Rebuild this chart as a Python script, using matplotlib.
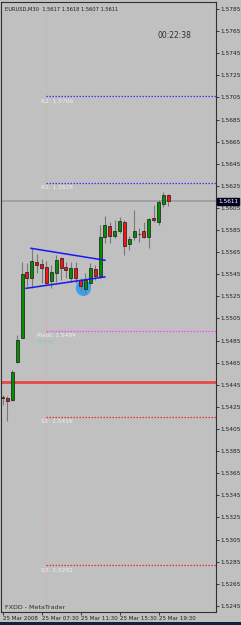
import matplotlib
matplotlib.use("Agg")
import matplotlib.pyplot as plt
from matplotlib.patches import Ellipse, Rectangle
import numpy as np

# ---- data ----
opens  = [1.5433, 1.5433, 1.5431, 1.5466, 1.5487, 1.5547, 1.5542, 1.5556, 1.5554, 1.5552,
          1.5539, 1.5546, 1.5560, 1.5552, 1.5542, 1.5551, 1.5540, 1.5532, 1.5537, 1.5550,
          1.5543, 1.5579, 1.5589, 1.5580, 1.5584, 1.5592, 1.5572, 1.5579, 1.5581, 1.5584,
          1.5579, 1.5596, 1.5592, 1.5609, 1.5617]
highs  = [1.5436, 1.5435, 1.5458, 1.5490, 1.5556, 1.5555, 1.5569, 1.5563, 1.5559, 1.5557,
          1.5553, 1.5562, 1.5561, 1.5556, 1.5556, 1.5556, 1.5542, 1.5546, 1.5555, 1.5553,
          1.5590, 1.5598, 1.5592, 1.5594, 1.5597, 1.5594, 1.5580, 1.5603, 1.5587, 1.5592,
          1.5596, 1.5608, 1.5612, 1.5619, 1.5618]
lows   = [1.5427, 1.5412, 1.5430, 1.5465, 1.5487, 1.5534, 1.5533, 1.5546, 1.5537, 1.5535,
          1.5533, 1.5538, 1.5540, 1.5542, 1.5538, 1.5537, 1.5529, 1.5527, 1.5535, 1.5540,
          1.5542, 1.5573, 1.5573, 1.5578, 1.5582, 1.5562, 1.5567, 1.5576, 1.5574, 1.5578,
          1.5569, 1.5592, 1.5590, 1.5606, 1.5607]
closes = [1.5434, 1.5430, 1.5457, 1.5486, 1.5545, 1.5542, 1.5557, 1.5553, 1.5551, 1.5537,
          1.5547, 1.5558, 1.5551, 1.5549, 1.5551, 1.5542, 1.5534, 1.5540, 1.5551, 1.5543,
          1.5579, 1.5590, 1.5580, 1.5584, 1.5593, 1.5571, 1.5577, 1.5584, 1.5581, 1.5579,
          1.5595, 1.5594, 1.5610, 1.5617, 1.5611]

time_tick_bars = [0, 8, 16, 24, 32]
time_tick_labels = ["25 Mar 2008", "25 Mar 07:30", "25 Mar 11:30", "25 Mar 15:30", "25 Mar 19:30"]
price_ticks = [round(1.5245 + 0.002 * k, 4) for k in range(28)]

pivot_names  = ["R2", "R1", "Pivot", "S1", "S2"]
pivot_values = [1.5706, 1.5628, 1.5494, 1.5416, 1.5282]
pivot_colors = ["#3838ff", "#3838ff", "#ff40ff", "#e83030", "#e83030"]
separator_bar = 9
red_level = 1.5448
last_price = 1.5611

tri_upper_x = [5.85, 21.0]
tri_upper_y = [1.55685, 1.55577]
tri_lower_x = [4.82, 21.0]
tri_lower_y = [1.55323, 1.55426]
circle_center = (16.6, 1.55326)

header = "EURUSD,M30  1.5617 1.5618 1.5607 1.5611"
timer = "00:22:38"
footer = "FXDD - MetaTrader"

# ---- figure ----
BG = "#c0c0c0"
fig = plt.figure(figsize=(2.41, 6.25), dpi=100, facecolor=BG)
ax = fig.add_axes([1/241, 1 - 612/625, 215/241, 610/625])
ax.set_facecolor(BG)

ax.set_xlim(-0.31, 43.79)
ax.set_ylim(1.52395, 1.57913)

# separator
ax.axvline(separator_bar, color="#d8a8a8", lw=0.6, ls=(0, (1.5, 2)), zorder=1)

# pivot levels
for name, val, col in zip(pivot_names, pivot_values, pivot_colors):
    ax.hlines(val, separator_bar, 43.79, colors=col, lw=0.9, linestyles=(0, (1.2, 1.2)), zorder=2)
    dx = -9 if name == "Pivot" else -5.5
    ax.annotate(f"{name}: {val:.4f}", (separator_bar, val), xytext=(dx, -2.5),
                textcoords="offset pixels", ha="left", va="top", fontsize=4.2,
                color="#f0f0f0", zorder=3)
ax.annotate("today", (separator_bar, pivot_values[2]), xytext=(-8, -8),
            textcoords="offset pixels", ha="left", va="top", fontsize=4.2,
            color="#88c8c8", zorder=3)

# current price & red level
ax.axhline(last_price, color="#9a9aa0", lw=1.2, zorder=2)
ax.axhline(red_level, color="#e84848", lw=2.0, zorder=2)

# blue circle
ax.add_patch(Ellipse(circle_center, 3.1, 0.00145, facecolor="#3aa0f0", edgecolor="none", zorder=3))

# candles
x = np.arange(len(opens))
o = np.array(opens); c = np.array(closes); h = np.array(highs); l = np.array(lows)
ax.vlines(x, l, h, colors="#787878", lw=0.8, zorder=4)
up = c >= o
bottoms = np.minimum(o, c)
heights = np.maximum(np.abs(c - o), 0.00004)
ax.bar(x[up], heights[up], bottom=bottoms[up], width=0.62, color="#009000",
       edgecolor="#1a1a1a", lw=0.5, zorder=5)
ax.bar(x[~up], heights[~up], bottom=bottoms[~up], width=0.62, color="#ff1010",
       edgecolor="#1a1a1a", lw=0.5, zorder=5)

# triangle
ax.plot(tri_upper_x, tri_upper_y, color="#1818f0", lw=1.1, zorder=6)
ax.plot(tri_lower_x, tri_lower_y, color="#1818f0", lw=1.1, zorder=6)

# axes styling
for s in ax.spines.values():
    s.set_color("#303030"); s.set_linewidth(0.8)
ax.yaxis.tick_right()
ax.set_yticks(price_ticks)
ax.set_yticklabels([f"{v:.4f}" for v in price_ticks], fontsize=4.2, color="#202020")
ax.tick_params(axis="y", length=2, width=0.6, pad=1, colors="#202020")
ax.set_xticks(time_tick_bars)
ax.set_xticklabels(time_tick_labels, fontsize=4.0, color="#202020", ha="left")
ax.tick_params(axis="x", length=2, width=0.6, pad=1, colors="#202020")

# texts
ax.text(4/215, 1 - 5/610, header, transform=ax.transAxes, fontsize=3.7,
        color="#202020", ha="left", va="top")
ax.text(157/215, 1 - 29/610, timer, transform=ax.transAxes, fontsize=5.5,
        color="#303030", ha="left", va="top")
ax.text(4/215, 2/610, footer, transform=ax.transAxes, fontsize=4.6,
        color="#303030", ha="left", va="bottom")

# last price box
ax.annotate(f"{last_price:.4f}", (1, last_price), xycoords=("axes fraction", "data"),
            xytext=(2, 0), textcoords="offset pixels", ha="left", va="center",
            fontsize=4.2, color="white",
            bbox=dict(boxstyle="square,pad=0.15", fc="#000020", ec="#000020"),
            annotation_clip=False, zorder=10)

# bottom navy strip
fig.patches.append(Rectangle((0, 0), 1, 3/625, transform=fig.transFigure,
                             facecolor="#14213d", edgecolor="none"))

fig.savefig("out.png", dpi=100, facecolor=BG)
